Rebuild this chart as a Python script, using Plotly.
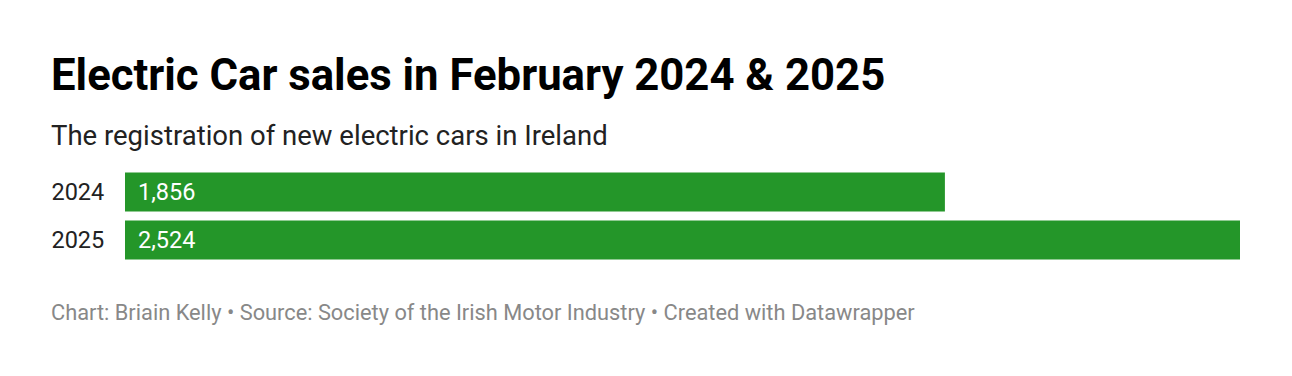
import plotly.graph_objects as go

years = ["2024", "2025"]
sales = [1856, 2524]

title = "Electric Car sales in February 2024 & 2025"
subtitle = "The registration of new electric cars in Ireland"
footer = "Chart: Briain Kelly • Source: Society of the Irish Motor Industry • Created with Datawrapper"

green = "#249629"

# page offset (browser body margin)
OFF = 8
PL, PR, PT, PB = 125 - OFF, 1240 - OFF, 168 - OFF, 264 - OFF

cat_order = years[::-1]  # first entry drawn at the bottom

fig = go.Figure()
fig.add_trace(go.Bar(
    y=years, x=sales, orientation="h",
    marker=dict(color=green, line=dict(width=0)),
    width=0.81, hoverinfo="skip",
))

fig.update_layout(
    template="none",
    width=1292, height=376,
    margin=dict(l=PL, r=1292 - PR, t=PT, b=376 - PB, pad=0, autoexpand=False),
    paper_bgcolor="white", plot_bgcolor="white",
    showlegend=False,
    xaxis=dict(range=[0, max(sales)], autorange=False, visible=False, fixedrange=True),
    yaxis=dict(type="category", categoryorder="array", categoryarray=cat_order,
               range=[-0.5, len(years) - 0.5], autorange=False,
               showgrid=False, zeroline=False, showline=False,
               ticks="outside", ticklen=15, tickcolor="rgba(0,0,0,0)",
               automargin=False, fixedrange=True,
               tickfont=dict(family="Roboto", size=23.5, color="#222")),
)

# value labels inside the bars (category index positions on the y axis)
for y, v in zip(years, sales):
    fig.add_annotation(x=0, y=cat_order.index(y), xref="paper", yref="y", text=f"{v:,}",
                       showarrow=False, xanchor="left", yanchor="middle", xshift=11,
                       font=dict(family="Roboto", size=23.5, color="white"))

def ptxt(text, xpx, ypx, size, color, bold=False):
    xp, yp = xpx - OFF, ypx - OFF
    fig.add_annotation(
        x=(xp - PL) / (PR - PL), y=(PB - yp) / (PB - PT),
        xref="paper", yref="paper", text=f"<b>{text}</b>" if bold else text,
        showarrow=False, xanchor="left", yanchor="middle",
        font=dict(family="Roboto", size=size, color=color))

ptxt(title, 49, 75, 43.7, "#000", bold=True)
ptxt(subtitle, 49, 135, 27.5, "#222")
ptxt(footer, 49, 312, 21.8, "#888")

fig.write_html("out.html")
